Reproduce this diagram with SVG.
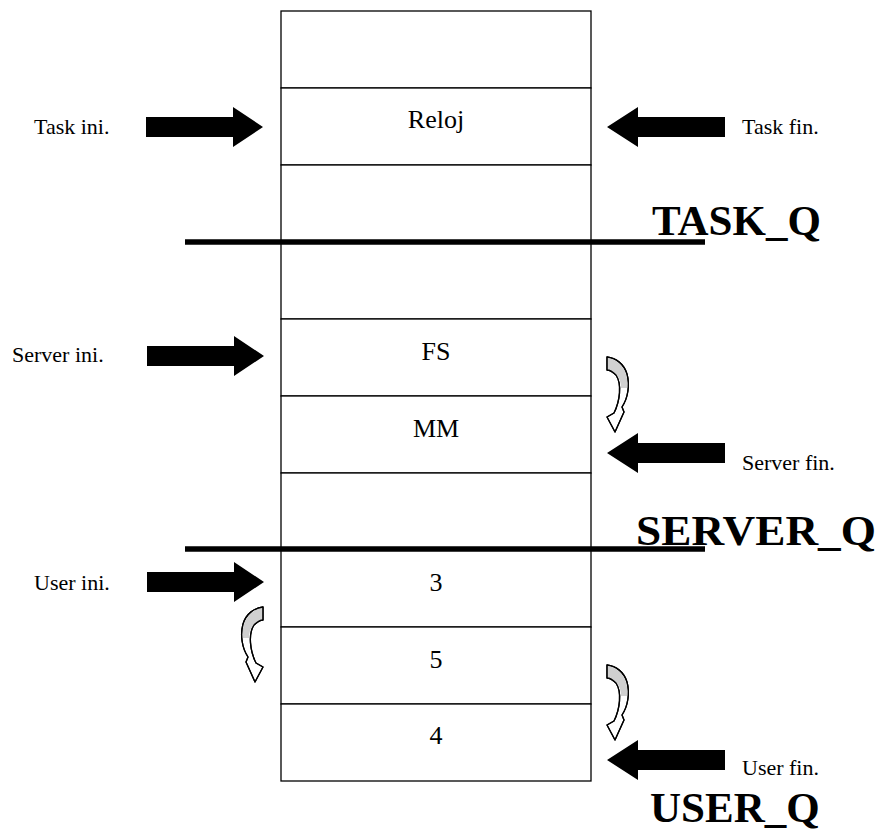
<svg xmlns="http://www.w3.org/2000/svg" xmlns:xlink="http://www.w3.org/1999/xlink" width="882" height="835" viewBox="0 0 882 835">
  <style>
    .slot { fill: #ffffff; stroke: #000000; stroke-width: 1.3; }
    .cell { font-family: "Liberation Serif", "Times New Roman", serif; font-size: 26px; fill: #000000; text-anchor: middle; }
    .side { font-family: "Liberation Serif", "Times New Roman", serif; font-size: 22px; fill: #000000; }
    .queue { font-family: "Liberation Serif", "Times New Roman", serif; font-size: 43px; font-weight: bold; fill: #000000; }
    .divider { stroke: #000000; stroke-width: 5.5; }
    .block { fill: #000000; }
    .turn { fill: #ffffff; stroke: #000000; stroke-width: 1.3; stroke-linejoin: round; }
    .turn-back { fill: #d0d0d0; stroke: none; }
  </style>
  <defs>
    <!-- block arrow pointing right, tip at origin -->
    <path id="arrow-right" class="block" d="M-117,-10 L-30,-10 L-30,-20 L0,0 L-30,20 L-30,10 L-117,10 Z"/>
    <!-- block arrow pointing left, tip at origin -->
    <path id="arrow-left" class="block" d="M0,0 L31,-20 L31,-10 L118,-10 L118,10 L31,10 L31,20 Z"/>
    <!-- small curled ribbon arrow, top-left at origin -->
    <g id="curl">
      <path class="turn" d="M0,0 C9,1 17,7 20,17 C23,28 21,41 15,50 L17,55 L8,75 L0,60 L7,56 C13,44 15,27 9,18 C6,15 3,13 0,13 Z"/>
      <path class="turn-back" d="M0.8,0.8 C9,2 16,8 19,17 C20.5,22 20.5,27 20.3,31 L14,31 C14,25 12,20 9,18 C6,15 3,13.8 0.8,12.4 Z"/>
      <path class="turn" style="fill:none" d="M0,0 C9,1 17,7 20,17 C23,28 21,41 15,50 L17,55 L8,75 L0,60 L7,56 C13,44 15,27 9,18 C6,15 3,13 0,13 Z"/>
    </g>
  </defs>

  <!-- queue slots -->
  <g id="slot-0"><rect class="slot" x="281" y="11" width="310" height="77"/></g>
  <g id="slot-reloj"><rect class="slot" x="281" y="88" width="310" height="77"/><text class="cell" x="436" y="128">Reloj</text></g>
  <g id="slot-2"><rect class="slot" x="281" y="165" width="310" height="77"/></g>
  <g id="slot-3"><rect class="slot" x="281" y="242" width="310" height="77"/></g>
  <g id="slot-fs"><rect class="slot" x="281" y="319" width="310" height="77"/><text class="cell" x="436" y="360">FS</text></g>
  <g id="slot-mm"><rect class="slot" x="281" y="396" width="310" height="77"/><text class="cell" x="436" y="437">MM</text></g>
  <g id="slot-6"><rect class="slot" x="281" y="473" width="310" height="77"/></g>
  <g id="slot-p3"><rect class="slot" x="281" y="550" width="310" height="77"/><text class="cell" x="436" y="591">3</text></g>
  <g id="slot-p5"><rect class="slot" x="281" y="627" width="310" height="77"/><text class="cell" x="436" y="668">5</text></g>
  <g id="slot-p4"><rect class="slot" x="281" y="704" width="310" height="77"/><text class="cell" x="436" y="744">4</text></g>

  <!-- queue boundaries -->
  <g id="boundaries">
    <line class="divider" x1="185" y1="242" x2="705" y2="242"/>
    <line class="divider" x1="185" y1="549" x2="705" y2="549"/>
  </g>

  <!-- queue names -->
  <g id="queue-names">
    <text class="queue" x="652" y="235">TASK_Q</text>
    <text class="queue" x="636" y="545" textLength="240" lengthAdjust="spacingAndGlyphs">SERVER_Q</text>
    <text class="queue" x="650" y="822">USER_Q</text>
  </g>

  <!-- head / tail labels -->
  <g id="labels">
    <text class="side" x="34" y="134">Task ini.</text>
    <text class="side" x="742" y="134">Task fin.</text>
    <text class="side" x="12" y="362">Server ini.</text>
    <text class="side" x="742" y="470">Server fin.</text>
    <text class="side" x="34" y="590">User ini.</text>
    <text class="side" x="742" y="775">User fin.</text>
  </g>

  <!-- pointers -->
  <g id="connectors">
    <use xlink:href="#arrow-right" transform="translate(263,127)"/>
    <use xlink:href="#arrow-left" transform="translate(607,127)"/>
    <use xlink:href="#arrow-right" transform="translate(264,356)"/>
    <use xlink:href="#arrow-left" transform="translate(607,453)"/>
    <use xlink:href="#arrow-right" transform="translate(264,582)"/>
    <use xlink:href="#arrow-left" transform="translate(607,760)"/>
    <use xlink:href="#curl" transform="translate(607,357)"/>
    <use xlink:href="#curl" transform="translate(607,665)"/>
    <use xlink:href="#curl" transform="translate(263,607) scale(-1,1)"/>
  </g>
</svg>
